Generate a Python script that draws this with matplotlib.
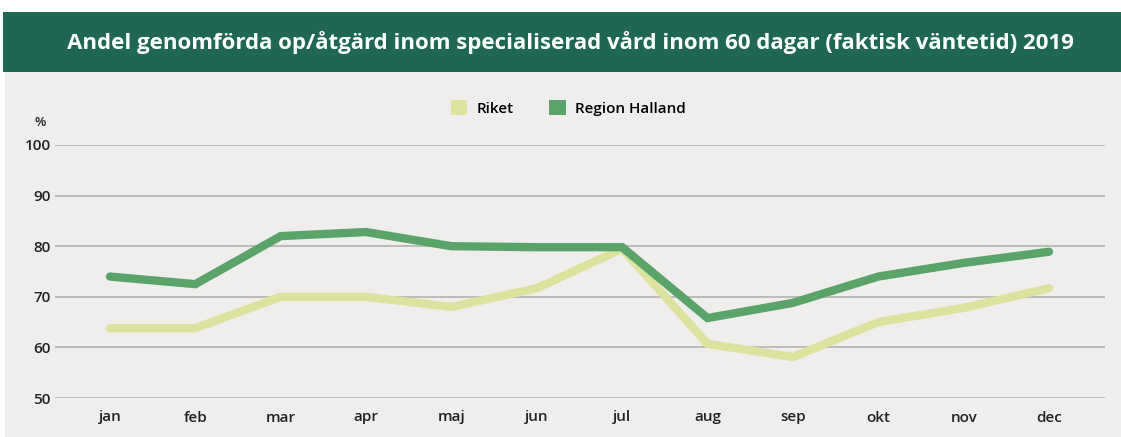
import matplotlib
matplotlib.use("Agg")
import matplotlib.pyplot as plt
from matplotlib.patches import Rectangle, Patch

months = ["jan", "feb", "mar", "apr", "maj", "jun", "jul", "aug", "sep", "okt", "nov", "dec"]
riket = [63.8, 63.8, 70.0, 70.0, 68.0, 71.7, 79.5, 60.7, 58.1, 65.0, 67.8, 71.7]
halland = [74.0, 72.5, 82.0, 82.8, 80.0, 79.8, 79.8, 65.8, 68.8, 74.0, 76.7, 78.9]
yticks = [50, 60, 70, 80, 90, 100]
title = "Andel genomförda op/åtgärd inom specialiserad vård inom 60 dagar (faktisk väntetid) 2019"

W, H = 1121, 437
fig = plt.figure(figsize=(W / 100, H / 100), dpi=100)
fig.patch.set_facecolor("white")

bg = "#efeeec"
fig.add_artist(Rectangle((5 / W, 0), 1, (H - 72) / H, transform=fig.transFigure,
                         facecolor=bg, edgecolor="none", zorder=0))
fig.add_artist(Rectangle((3 / W, (H - 72) / H), 1, 60 / H, transform=fig.transFigure,
                         facecolor="#1f6753", edgecolor="none", zorder=0))
fig.text(570 / W, (H - 43) / H, title, color="white", fontsize=16, fontweight="bold",
         family="Open Sans", ha="center", va="center")

ax = fig.add_axes([55 / W, (H - 398) / H, 1050 / W, 253 / H])
ax.set_facecolor("none")
x = list(range(len(months)))
ax.plot(x, riket, color="#dbe39f", lw=6, solid_capstyle="round", solid_joinstyle="miter", zorder=3)
ax.plot(x, halland, color="#5ba469", lw=6, solid_capstyle="round", solid_joinstyle="miter", zorder=4)
ax.set_ylim(50, 100)
ax.set_xlim(-0.644, 11.656)
ax.set_yticks(yticks)
ax.set_xticks(x)
ax.set_xticklabels(months)
ax.grid(axis="y", color="#b8b7b5", lw=1.3)
ax.set_axisbelow(True)
for s in ax.spines.values():
    s.set_visible(False)
ax.tick_params(length=0, labelsize=11, labelcolor="#222222")
ax.tick_params(axis="x", pad=9)
ax.tick_params(axis="y", pad=3)
for lab in ax.get_xticklabels() + ax.get_yticklabels():
    lab.set_family("Open Sans")
    lab.set_fontweight("semibold")

fig.text(40 / W, (H - 122) / H, "%", fontsize=9.5, family="Open Sans", fontweight="semibold",
         ha="center", va="center", color="#222222")

handles = [Patch(facecolor="#dbe39f", label="Riket"), Patch(facecolor="#5ba469", label="Region Halland")]
fig.legend(handles=handles, loc="center", bbox_to_anchor=(568 / W, (H - 108) / H), ncol=2,
           frameon=False, prop={"family": "Open Sans", "size": 11, "weight": "semibold"},
           handlelength=1.1, handleheight=1.1, handletextpad=0.6, columnspacing=2.3)

fig.savefig("out.png", dpi=100, facecolor="white")
